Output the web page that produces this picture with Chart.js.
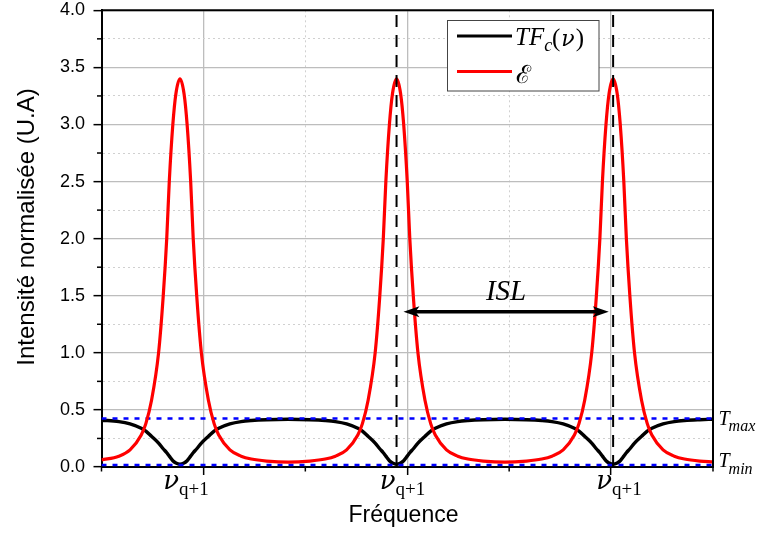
<!DOCTYPE html>
<html><head><meta charset="utf-8">
<script src="https://cdn.jsdelivr.net/npm/chart.js@4"></script>
<style>html,body{margin:0;padding:0;background:#fff;}canvas{display:block;}</style>
</head><body>
<canvas id="c" width="765" height="534"></canvas>
<script>
// ---- data ----
const freqX = [
  0, 0.17, 0.28, 0.39, 0.435, 0.49, 0.56, 0.605, 0.64, 0.665, 0.70, 0.73, 0.77,
  0.81, 0.84, 0.875, 0.90, 0.935, 0.98, 1.05, 1.105, 1.15, 1.26, 1.37, 1.47, 1.62, 1.8325,
  2.045, 2.195, 2.295, 2.405, 2.515, 2.56, 2.615, 2.685, 2.73, 2.765, 2.79, 2.825, 2.855, 2.895,
  2.935, 2.965, 3.0, 3.025, 3.06, 3.105, 3.175, 3.23, 3.275, 3.385, 3.495, 3.595, 3.745, 3.9575,
  4.17, 4.32, 4.42, 4.53, 4.64, 4.685, 4.74, 4.81, 4.855, 4.89, 4.915, 4.95, 4.98, 5.02,
  5.06, 5.09, 5.125, 5.15, 5.185, 5.23, 5.30, 5.355, 5.40, 5.51, 5.62, 5.72, 5.87, 6.0
];
const envValues = [
  0.062, 0.095, 0.15, 0.28, 0.38, 0.58, 1.0, 1.49, 2.0, 2.5, 3.0, 3.27, 3.40,
  3.27, 3.0, 2.5, 2.0, 1.49, 1.0, 0.58, 0.38, 0.28, 0.15, 0.095, 0.07, 0.052, 0.042,
  0.052, 0.07, 0.095, 0.15, 0.28, 0.38, 0.58, 1.0, 1.49, 2.0, 2.5, 3.0, 3.27, 3.40,
  3.27, 3.0, 2.5, 2.0, 1.49, 1.0, 0.58, 0.38, 0.28, 0.15, 0.095, 0.07, 0.052, 0.042,
  0.052, 0.07, 0.095, 0.15, 0.28, 0.38, 0.58, 1.0, 1.49, 2.0, 2.5, 3.0, 3.27, 3.40,
  3.27, 3.0, 2.5, 2.0, 1.49, 1.0, 0.58, 0.38, 0.28, 0.15, 0.095, 0.07, 0.052, 0.045
];
const tfValues = [
  0.41, 0.398, 0.378, 0.34, 0.315, 0.27, 0.21, 0.16, 0.125, 0.095, 0.055, 0.035, 0.024,
  0.035, 0.055, 0.095, 0.125, 0.16, 0.21, 0.27, 0.315, 0.34, 0.378, 0.398, 0.407, 0.414, 0.418,
  0.414, 0.407, 0.398, 0.378, 0.34, 0.315, 0.27, 0.21, 0.16, 0.125, 0.095, 0.055, 0.035, 0.024,
  0.035, 0.055, 0.095, 0.125, 0.16, 0.21, 0.27, 0.315, 0.34, 0.378, 0.398, 0.407, 0.414, 0.418,
  0.414, 0.407, 0.398, 0.378, 0.34, 0.315, 0.27, 0.21, 0.16, 0.125, 0.095, 0.055, 0.035, 0.024,
  0.035, 0.055, 0.095, 0.125, 0.16, 0.21, 0.27, 0.315, 0.34, 0.378, 0.398, 0.407, 0.414, 0.418
];
const peakFreqs = [0.77, 2.895, 5.02];      // positions of the ν_q+1 labels
const markerFreqs = [2.895, 5.02];          // dashed vertical markers
const tMax = 0.425;
const tMin = 0.017;
const islFrom = 2.963, islTo = 4.977, islLevel = 1.36;
const yTickLabels = ['0.0', '0.5', '1.0', '1.5', '2.0', '2.5', '3.0', '3.5', '4.0'];
const xRange = [0, 6];
const yRange = [0, 4];
const xTitle = 'Fréquence';
const yTitle = 'Intensité normalisée (U.A)';
const seriesNames = ['TF', 'c', 'ν', 'ℰ'];
const peakLabelMain = 'ν';
const peakLabelSub = 'q+1';
const levelNames = [['T', 'max'], ['T', 'min']];

// ---- helpers ----
const pts = (xs, ys) => xs.map((x, i) => ({ x: x, y: ys[i] }));
const isMajorY = v => Math.abs(v * 2 - Math.round(v * 2)) < 1e-6;
const isMajorX = v => Math.round(v) % 2 === 1;

const datasets = [];
markerFreqs.forEach(f => datasets.push({
  data: [{ x: f, y: yRange[0] }, { x: f, y: yRange[1] }],
  borderColor: '#000', borderWidth: 2, borderDash: [12, 8], pointRadius: 0
}));
datasets.push({
  label: 'E', data: pts(freqX, envValues), borderColor: '#ff0000', borderWidth: 3.2,
  pointRadius: 0, cubicInterpolationMode: 'monotone'
});
[tMax, tMin].forEach(l => datasets.push({
  data: [{ x: xRange[0], y: l }, { x: xRange[1], y: l }],
  borderColor: '#0000ff', borderWidth: 2.5, borderDash: [5, 6], pointRadius: 0
}));
datasets.push({
  label: 'TF', data: pts(freqX, tfValues), borderColor: '#000', borderWidth: 3.4,
  pointRadius: 0, cubicInterpolationMode: 'monotone'
});

const overlay = {
  id: 'overlay',
  afterDraw(chart) {
    const ctx = chart.ctx, a = chart.chartArea;
    const xs = chart.scales.x, ys = chart.scales.y;
    ctx.save();
    // minor ticks
    ctx.strokeStyle = '#000'; ctx.lineWidth = 1.5;
    ys.ticks.forEach(t => {
      if (!isMajorY(t.value)) {
        const y = ys.getPixelForValue(t.value);
        ctx.beginPath(); ctx.moveTo(a.left - 4.5, y); ctx.lineTo(a.left, y); ctx.stroke();
      }
    });
    xs.ticks.forEach(t => {
      if (!isMajorX(t.value)) {
        const x = xs.getPixelForValue(t.value);
        ctx.beginPath(); ctx.moveTo(x, a.bottom); ctx.lineTo(x, a.bottom + 4.5); ctx.stroke();
      }
    });
    // frame top & right
    ctx.lineWidth = 2;
    ctx.beginPath();
    ctx.moveTo(a.left, a.top); ctx.lineTo(a.right, a.top); ctx.lineTo(a.right, a.bottom);
    ctx.stroke();

    // axis titles
    ctx.fillStyle = '#000';
    ctx.textBaseline = 'alphabetic';
    ctx.textAlign = 'center';
    ctx.font = '23px "Liberation Sans"';
    ctx.fillText(xTitle, 403.5, 521.5);
    ctx.save();
    ctx.translate(33.5, 227);
    ctx.rotate(-Math.PI / 2);
    ctx.font = '24px "Liberation Sans"';
    ctx.fillText(yTitle, 0, 0);
    ctx.restore();

    // ISL arrow
    const ay = ys.getPixelForValue(islLevel);
    const ax1 = xs.getPixelForValue(islFrom), ax2 = xs.getPixelForValue(islTo);
    const hl = 16, hw = 5.5;
    ctx.lineWidth = 3.5; ctx.strokeStyle = '#000'; ctx.fillStyle = '#000';
    ctx.beginPath(); ctx.moveTo(ax1 + hl * 0.7, ay); ctx.lineTo(ax2 - hl * 0.7, ay); ctx.stroke();
    ctx.beginPath();
    ctx.moveTo(ax1, ay); ctx.lineTo(ax1 + hl, ay - hw); ctx.lineTo(ax1 + hl * 0.75, ay);
    ctx.lineTo(ax1 + hl, ay + hw); ctx.closePath(); ctx.fill();
    ctx.beginPath();
    ctx.moveTo(ax2, ay); ctx.lineTo(ax2 - hl, ay - hw); ctx.lineTo(ax2 - hl * 0.75, ay);
    ctx.lineTo(ax2 - hl, ay + hw); ctx.closePath(); ctx.fill();
    ctx.font = 'italic 29px "Liberation Serif"';
    ctx.textAlign = 'center';
    ctx.fillText('ISL', (ax1 + ax2) / 2, ay - 11.5);

    // ν_q+1 labels
    peakFreqs.forEach(f => {
      const x = xs.getPixelForValue(f) - 1;
      ctx.textAlign = 'right';
      ctx.font = 'italic 26px "DejaVu Serif"';
      ctx.fillText(peakLabelMain, x, a.bottom + 21.5);
      ctx.textAlign = 'left';
      ctx.font = '19px "Liberation Serif"';
      ctx.fillText(peakLabelSub, x, a.bottom + 28);
    });

    // T_max / T_min labels
    [[tMax, 6.5, 12.5], [tMin, 2, 9]].forEach((d, i) => {
      const y = ys.getPixelForValue(d[0]);
      const x = a.right + 5.5;
      ctx.textAlign = 'left';
      ctx.font = 'italic 20px "Liberation Serif"';
      ctx.fillText(levelNames[i][0], x, y + d[1]);
      const w = ctx.measureText(levelNames[i][0]).width;
      ctx.font = 'italic 16px "Liberation Serif"';
      ctx.fillText(levelNames[i][1], x + w - 1, y + d[2]);
    });

    // legend
    ctx.fillStyle = '#fff';
    ctx.fillRect(447.5, 20.5, 151.5, 70.5);
    ctx.strokeStyle = '#444'; ctx.lineWidth = 1;
    ctx.strokeRect(447.5, 20.5, 151.5, 70.5);
    ctx.lineWidth = 3.2;
    ctx.strokeStyle = '#000';
    ctx.beginPath(); ctx.moveTo(457, 36); ctx.lineTo(512, 36); ctx.stroke();
    ctx.strokeStyle = '#ff0000';
    ctx.beginPath(); ctx.moveTo(457, 71.5); ctx.lineTo(512, 71.5); ctx.stroke();
    ctx.fillStyle = '#000'; ctx.textAlign = 'left';
    let lx = 515;
    ctx.font = 'italic 25px "Liberation Serif"';
    ctx.fillText(seriesNames[0], lx, 45);
    lx += ctx.measureText(seriesNames[0]).width;
    ctx.font = 'italic 18px "Liberation Serif"';
    ctx.fillText(seriesNames[1], lx, 51);
    lx = 552;
    ctx.font = '25px "Liberation Serif"';
    ctx.fillText('(', lx, 46); lx += ctx.measureText('(').width + 1;
    ctx.font = 'italic 22px "DejaVu Serif"';
    ctx.fillText(seriesNames[2], lx, 46); lx += ctx.measureText(seriesNames[2]).width + 1;
    ctx.font = '25px "Liberation Serif"';
    ctx.fillText(')', lx, 46);
    ctx.font = '25px "DejaVu Serif"';
    ctx.fillText(seriesNames[3], 516, 83);
    ctx.restore();
  }
};

new Chart(document.getElementById('c'), {
  type: 'line',
  data: { datasets: datasets },
  plugins: [overlay],
  options: {
    responsive: false, animation: false, devicePixelRatio: 1,
    layout: { padding: { left: 0, top: 10.3, right: 52, bottom: 0 } },
    plugins: { legend: { display: false }, tooltip: { enabled: false } },
    elements: { point: { radius: 0 }, line: { tension: 0 } },
    scales: {
      x: {
        type: 'linear', min: xRange[0], max: xRange[1],
        afterFit: s => { s.height = 67; },
        ticks: { stepSize: 1, autoSkip: false, callback: () => '', padding: 0, font: { size: 1, lineHeight: 0.05 } },
        grid: {
          drawTicks: true, tickLength: 8, tickWidth: 1.5,
          tickColor: c => isMajorX(c.tick.value) ? '#000' : 'rgba(0,0,0,0)',
          color: c => isMajorX(c.tick.value) ? '#bdbdbd' : '#d0d0d0',
          lineWidth: c => isMajorX(c.tick.value) ? 1.3 : 1
        },
        border: {
          display: true, color: '#000', width: 2,
          dash: c => (c.tick && !isMajorX(c.tick.value)) ? [2, 3] : []
        },
        title: { display: false }
      },
      y: {
        type: 'linear', min: yRange[0], max: yRange[1],
        afterFit: s => { s.width = 101.5; },
        ticks: {
          stepSize: 0.25, autoSkip: false, color: '#000', padding: 8.5,
          font: { family: 'Liberation Sans', size: 18, lineHeight: 0.05 },
          callback: v => isMajorY(v) ? yTickLabels[Math.round(v * 2)] : ''
        },
        grid: {
          drawTicks: true, tickLength: 8, tickWidth: 1.5,
          tickColor: c => isMajorY(c.tick.value) ? '#000' : 'rgba(0,0,0,0)',
          color: c => isMajorY(c.tick.value) ? '#bdbdbd' : '#d0d0d0',
          lineWidth: c => isMajorY(c.tick.value) ? 1.3 : 1
        },
        border: {
          display: true, color: '#000', width: 2,
          dash: c => (c.tick && !isMajorY(c.tick.value)) ? [2, 3] : []
        },
        title: { display: false }
      }
    }
  }
});
</script>
</body></html>
